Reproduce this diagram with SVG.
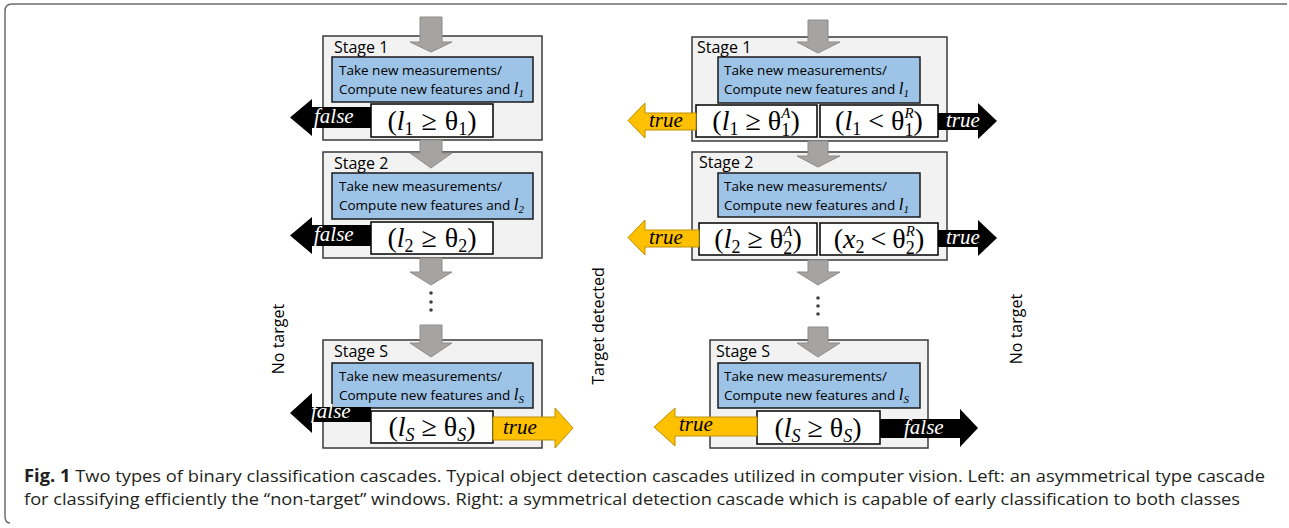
<svg xmlns="http://www.w3.org/2000/svg" width="1289" height="528" viewBox="0 0 1289 528">
<defs>
<style>
.stage{fill:#f2f2f2;stroke:#3a3a3a;stroke-width:1.5}
.blue{fill:#9dc3e6;stroke:#1a1a1a;stroke-width:1.5}
.cond{fill:#fff;stroke:#000;stroke-width:1.5}
.lbl{font-family:"Open Sans",sans-serif;font-size:16px;fill:#000}
.txt{font-family:"Open Sans",sans-serif;font-size:13.5px;fill:#000}
.mi{font-family:"Liberation Serif",serif;font-style:italic}
.m{font-family:"Liberation Serif","DejaVu Serif",serif;font-size:28px;fill:#000}
.sb{font-size:18px}
.sp{font-size:15px}
.gray{fill:#a6a4a2;stroke:#8c8c8c;stroke-width:1}
.blk{fill:#000}
.org{fill:#ffc000;stroke:#bf9000;stroke-width:1}
.aw{font-family:"Liberation Serif",serif;font-style:italic;font-size:21px;fill:#fff}
.ab{font-family:"Liberation Serif",serif;font-style:italic;font-size:21px;fill:#000}
.side{font-family:"Open Sans",sans-serif;font-size:16px;fill:#000}
.cap{font-family:"Open Sans",sans-serif;font-size:17px;fill:#231f20}
.dot{fill:#404040}
</style>
</defs>
<rect width="1289" height="528" fill="#fff"/>
<path d="M1287 4 H12 Q5 4 5 11 V516 Q5 523 10 523" fill="none" stroke="#6b6b6b" stroke-width="1.5"/>

<!-- Left cascade -->
<g id="L-stage1">
<rect class="stage" x="323" y="36" width="219" height="104"/>
<text class="lbl" x="334" y="53">Stage 1</text>
<rect class="blue" x="332" y="57" width="201" height="45"/>
<text class="txt" x="339" y="75">Take new measurements/</text>
<text class="txt" x="339" y="94">Compute new features and  <tspan class="mi" font-size="17">l</tspan><tspan class="mi" font-size="11" dy="3">1</tspan></text>
<rect class="cond" x="371" y="104" width="122" height="33"/>
<text class="m" x="432" y="130" text-anchor="middle">(<tspan class="mi">l</tspan><tspan class="sb" dy="5">1</tspan><tspan dy="-5" dx="8">≥</tspan><tspan dx="8">θ</tspan><tspan class="sb" dy="5">1</tspan><tspan dy="-5">)</tspan></text>
</g>
<g id="L-stage2">
<rect class="stage" x="323" y="152" width="219" height="106"/>
<text class="lbl" x="334" y="169">Stage 2</text>
<rect class="blue" x="332" y="173" width="201" height="46"/>
<text class="txt" x="339" y="191">Take new measurements/</text>
<text class="txt" x="339" y="210">Compute new features and <tspan class="mi" font-size="17">l</tspan><tspan class="mi" font-size="11" dy="3">2</tspan></text>
<rect class="cond" x="371" y="222" width="122" height="32"/>
<text class="m" x="432" y="247" text-anchor="middle">(<tspan class="mi">l</tspan><tspan class="sb" dy="5">2</tspan><tspan dy="-5" dx="8">≥</tspan><tspan dx="8">θ</tspan><tspan class="sb" dy="5">2</tspan><tspan dy="-5">)</tspan></text>
</g>
<g id="L-stageS">
<rect class="stage" x="323" y="340" width="219" height="108"/>
<text class="lbl" x="334" y="357">Stage S</text>
<rect class="blue" x="332" y="363" width="201" height="45"/>
<text class="txt" x="339" y="381">Take new measurements/</text>
<text class="txt" x="339" y="400">Compute new features and <tspan class="mi" font-size="17">l</tspan><tspan class="mi" font-size="11" dy="3">S</tspan></text>
<rect class="cond" x="371" y="411" width="122" height="32"/>
<text class="m" x="432" y="436" text-anchor="middle">(<tspan class="mi">l</tspan><tspan class="sb mi" dy="5">S</tspan><tspan dy="-5" dx="7">≥</tspan><tspan dx="7">θ</tspan><tspan class="sb mi" dy="5">S</tspan><tspan dy="-5">)</tspan></text>
</g>

<!-- Right cascade -->
<g id="R-stage1">
<rect class="stage" x="692" y="37" width="255" height="104"/>
<text class="lbl" x="697" y="53">Stage 1</text>
<rect class="blue" x="718" y="57" width="202" height="46"/>
<text class="txt" x="724" y="75">Take new measurements/</text>
<text class="txt" x="724" y="94">Compute new features and  <tspan class="mi" font-size="17">l</tspan><tspan class="mi" font-size="11" dy="3">1</tspan></text>
<rect class="cond" x="696" y="105" width="121" height="32"/>
<text class="m" x="756" y="130" text-anchor="middle">(<tspan class="mi">l</tspan><tspan class="sb" dy="5">1</tspan><tspan dy="-5" dx="7">≥</tspan><tspan dx="7">θ</tspan><tspan class="sb" dy="6">1</tspan><tspan class="sp mi" dx="-9" dy="-18">A</tspan><tspan dy="12">)</tspan></text>
<rect class="cond" x="820" y="105" width="118" height="32"/>
<text class="m" x="879" y="130" text-anchor="middle">(<tspan class="mi">l</tspan><tspan class="sb" dy="5">1</tspan><tspan dy="-5" dx="7">&lt;</tspan><tspan dx="7">θ</tspan><tspan class="sb" dy="6">1</tspan><tspan class="sp mi" dx="-9" dy="-18">R</tspan><tspan dy="12">)</tspan></text>
</g>
<g id="R-stage2">
<rect class="stage" x="692" y="152" width="255" height="108"/>
<text class="lbl" x="699" y="168">Stage 2</text>
<rect class="blue" x="718" y="173" width="202" height="44"/>
<text class="txt" x="724" y="191">Take new measurements/</text>
<text class="txt" x="724" y="210">Compute new features and  <tspan class="mi" font-size="17">l</tspan><tspan class="mi" font-size="11" dy="3">1</tspan></text>
<rect class="cond" x="699" y="223" width="118" height="32"/>
<text class="m" x="758" y="248" text-anchor="middle">(<tspan class="mi">l</tspan><tspan class="sb" dy="5">2</tspan><tspan dy="-5" dx="7">≥</tspan><tspan dx="7">θ</tspan><tspan class="sb" dy="6">2</tspan><tspan class="sp mi" dx="-9" dy="-18">A</tspan><tspan dy="12">)</tspan></text>
<rect class="cond" x="820" y="223" width="118" height="32"/>
<text class="m" x="879" y="248" text-anchor="middle">(<tspan class="mi">x</tspan><tspan class="sb" dy="5">2</tspan><tspan dy="-5" dx="6">&lt;</tspan><tspan dx="6">θ</tspan><tspan class="sb" dy="6">2</tspan><tspan class="sp mi" dx="-9" dy="-18">R</tspan><tspan dy="12">)</tspan></text>
</g>
<g id="R-stageS">
<rect class="stage" x="710" y="340" width="218" height="108"/>
<text class="lbl" x="716" y="357">Stage S</text>
<rect class="blue" x="718" y="363" width="202" height="45"/>
<text class="txt" x="724" y="381">Take new measurements/</text>
<text class="txt" x="724" y="400">Compute new features and  <tspan class="mi" font-size="17">l</tspan><tspan class="mi" font-size="11" dy="3">S</tspan></text>
<rect class="cond" x="757" y="411" width="123" height="33"/>
<text class="m" x="818" y="437" text-anchor="middle">(<tspan class="mi">l</tspan><tspan class="sb mi" dy="5">S</tspan><tspan dy="-5" dx="7">≥</tspan><tspan dx="7">θ</tspan><tspan class="sb mi" dy="5">S</tspan><tspan dy="-5">)</tspan></text>
</g>

<g id="connectors">
<!-- left gray flow arrows -->
<polygon class="gray" points="420,17 442,17 442,42 452,42 431,52 410,42 420,42"/>
<polygon class="gray" points="420,140 442,140 442,153 452,153 431,168 410,153 420,153"/>
<polygon class="gray" points="420,258 442,258 442,272 452,272 431,285 410,272 420,272"/>
<polygon class="gray" points="420,325 442,325 442,343 452,343 431,357 410,343 420,343"/>
<circle class="dot" cx="431" cy="293" r="1.8"/>
<circle class="dot" cx="431" cy="302" r="1.8"/>
<circle class="dot" cx="431" cy="310" r="1.8"/>
<!-- right gray flow arrows -->
<polygon class="gray" points="808,20 828,20 828,42 840,42 818,53 797,42 808,42"/>
<polygon class="gray" points="808,141 828,141 828,156 840,156 818,167 797,156 808,156"/>
<polygon class="gray" points="808,260 828,260 828,272 840,272 818,285 797,272 808,272"/>
<polygon class="gray" points="808,327 828,327 828,343 840,343 818,357 797,343 808,343"/>
<circle class="dot" cx="818" cy="298" r="1.8"/>
<circle class="dot" cx="818" cy="306" r="1.8"/>
<circle class="dot" cx="818" cy="314" r="1.8"/>
<!-- left outcome arrows -->
<polygon class="blk" points="371,107 312,107 312,99 290,117.5 312,136 312,128 371,128"/>
<text class="aw" x="314" y="123">false</text>
<polygon class="blk" points="371,225 312,225 312,217 290,235.5 312,254 312,246 371,246"/>
<text class="aw" x="314" y="241">false</text>
<polygon class="blk" points="371,407 312,407 312,393 290,413 312,433 312,422 371,422"/>
<text class="aw" x="311" y="418">false</text>
<polygon class="org" points="493,417 555,417 555,408 573,428 555,448 555,440 493,440"/>
<text class="ab" x="503" y="434">true</text>
<!-- right outcome arrows -->
<polygon class="org" points="696,113 645,113 645,103 628,120.5 645,138 645,130 696,130"/>
<text class="ab" x="649" y="127">true</text>
<polygon class="blk" points="938,113 978,113 978,103 997,121 978,139 978,130 938,130"/>
<text class="aw" x="946" y="127">true</text>
<polygon class="org" points="699,230 645,230 645,220 628,237.5 645,255 645,247 699,247"/>
<text class="ab" x="649" y="244">true</text>
<polygon class="blk" points="938,230 978,230 978,220 997,238 978,256 978,247 938,247"/>
<text class="aw" x="946" y="244">true</text>
<polygon class="org" points="757,417 675,417 675,408 654,427 675,446 675,436 757,436"/>
<text class="ab" x="679" y="431">true</text>
<polygon class="blk" points="880,419 960,419 960,409 978,428 960,447 960,438 880,438"/>
<text class="aw" x="904" y="434">false</text>
</g>

<g id="side-labels">
<text class="side" transform="translate(284,339) rotate(-90)" text-anchor="middle">No target</text>
<text class="side" transform="translate(604,326) rotate(-90)" text-anchor="middle">Target detected</text>
<text class="side" transform="translate(1022,329) rotate(-90)" text-anchor="middle">No target</text>
</g>

<g id="caption">
<text class="cap" x="24" y="482" textLength="1241" lengthAdjust="spacingAndGlyphs"><tspan font-weight="bold">Fig. 1</tspan> Two types of binary classification cascades. Typical object detection cascades utilized in computer vision. Left: an asymmetrical type cascade</text>
<text class="cap" x="24" y="505" textLength="1216" lengthAdjust="spacingAndGlyphs">for classifying efficiently the “non-target” windows. Right: a symmetrical detection cascade which is capable of early classification to both classes</text>
</g>
</svg>
